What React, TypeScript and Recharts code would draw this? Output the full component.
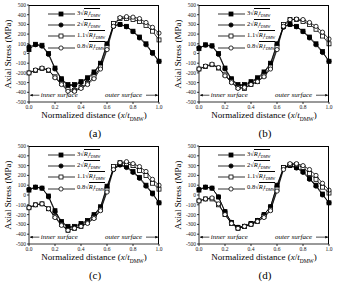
import React from 'react';
import { LineChart, Line, XAxis, YAxis } from 'recharts';

// normalized distance x/t_DMW
const xs = [0, 0.05, 0.1, 0.15, 0.2, 0.25, 0.3, 0.35, 0.4, 0.45, 0.5, 0.55, 0.6, 0.65, 0.7, 0.75, 0.8, 0.85, 0.9, 0.95, 1.0];

const yTicks = [-500, -400, -300, -200, -100, 0, 100, 200, 300, 400, 500];
const xTicks = [0, 0.2, 0.4, 0.6, 0.8, 1.0];

const legendFactors = ['3', '2', '1.1', '0.8'];

// axial stress (MPa), case (a)
const aS3 = [40, 95, 85, 0, -150, -260, -320, -320, -290, -250, -190, -100, 100, 290, 300, 280, 230, 170, 100, 10, -80];
const aS2 = [70, 90, 75, -10, -160, -270, -330, -330, -300, -260, -200, -110, 90, 280, 300, 275, 225, 160, 90, 0, -80];
const aS11 = [-200, -175, -155, -175, -240, -310, -370, -380, -350, -310, -240, -140, 60, 310, 360, 360, 350, 330, 290, 230, 140];
const aS08 = [-200, -170, -150, -170, -250, -320, -390, -390, -360, -320, -260, -160, 40, 280, 370, 380, 375, 360, 320, 270, 210];

// case (b)
const bS3 = [50, 90, 80, 0, -150, -260, -320, -320, -290, -250, -190, -100, 100, 280, 300, 280, 230, 170, 100, 20, -80];
const bS2 = [60, 85, 75, -10, -160, -270, -330, -330, -300, -260, -200, -110, 90, 270, 300, 275, 225, 160, 90, 10, -80];
const bS11 = [-160, -135, -115, -150, -220, -290, -350, -360, -320, -290, -230, -140, 60, 300, 350, 350, 330, 300, 250, 180, 100];
const bS08 = [-160, -130, -110, -145, -230, -300, -360, -350, -320, -290, -240, -160, 40, 280, 350, 355, 350, 320, 280, 220, 150];

// case (c)
const cS3 = [50, 80, 70, -10, -160, -270, -320, -320, -290, -260, -200, -120, 90, 270, 310, 290, 240, 180, 100, 20, -80];
const cS2 = [60, 80, 70, -20, -170, -280, -330, -330, -300, -270, -210, -130, 80, 260, 305, 280, 230, 170, 90, 10, -80];
const cS11 = [-130, -100, -90, -140, -220, -300, -360, -340, -320, -280, -230, -150, 50, 290, 330, 320, 300, 250, 200, 120, 60];
const cS08 = [-130, -100, -90, -140, -230, -310, -360, -340, -320, -290, -240, -160, 30, 260, 330, 340, 320, 290, 240, 160, 100];

// case (d)
const dS3 = [50, 80, 70, -20, -170, -280, -330, -320, -290, -260, -200, -120, 100, 280, 300, 280, 240, 170, 100, 10, -80];
const dS2 = [60, 80, 70, -20, -170, -280, -330, -320, -290, -260, -200, -120, 90, 270, 300, 275, 230, 160, 90, 0, -80];
const dS11 = [-60, -40, -40, -100, -200, -290, -340, -320, -300, -270, -220, -150, 60, 280, 310, 310, 280, 220, 160, 80, 20];
const dS08 = [-60, -40, -30, -90, -200, -290, -340, -320, -300, -270, -230, -160, 40, 260, 320, 320, 300, 260, 200, 120, 50];

const FONT = '"Liberation Serif", "DejaVu Serif", serif';
const W = 170;
const H = 140;
const PLOT_LEFT = 29;
const PLOT_RIGHT = 159;

type MarkerKind = 'fsq' | 'fci' | 'osq' | 'oci';
const markers: MarkerKind[] = ['fsq', 'fci', 'osq', 'oci'];

const Marker = ({ kind, cx, cy }: { kind: MarkerKind; cx: number; cy: number }) => {
  const fill = kind === 'fsq' || kind === 'fci' ? '#000' : '#fff';
  if (kind === 'fsq' || kind === 'osq') {
    return <rect x={cx - 2} y={cy - 2} width={4} height={4} fill={fill} stroke="#000" strokeWidth={0.8} />;
  }
  return <circle cx={cx} cy={cy} r={2.1} fill={fill} stroke="#000" strokeWidth={0.8} />;
};

const makeDot = (kind: MarkerKind) => (props: any) => {
  const { cx, cy, index } = props;
  if (cx == null || cy == null) return <g key={index} />;
  return (
    <g key={index}>
      <Marker kind={kind} cx={cx} cy={cy} />
    </g>
  );
};

const Legend = ({ top }: { top: number }) => (
  <div style={{ position: 'absolute', left: 48, top, fontFamily: FONT, fontSize: 6.5, lineHeight: '11px' }}>
    {legendFactors.map((f, i) => (
      <div key={f} style={{ display: 'flex', alignItems: 'center', height: 11.3 }}>
        <svg width={27} height={8} style={{ display: 'block' }}>
          <line x1={0} y1={4} x2={27} y2={4} stroke="#000" strokeWidth={0.8} />
          <Marker kind={markers[i]} cx={13} cy={4} />
        </svg>
        <span style={{ marginLeft: 2, whiteSpace: 'nowrap' }}>
          {f}
          <span>√</span>
          <span style={{ borderTop: '0.7px solid #000', fontStyle: 'italic' }}>
            R<sub style={{ fontSize: 4 }}>i</sub>t<sub style={{ fontSize: 4 }}>DMW</sub>
          </span>
        </span>
      </div>
    ))}
  </div>
);

interface PanelProps {
  left: number;
  top: number;
  plotTop: number;
  plotBottom: number;
  tag: string;
  series: number[][];
}

const Panel = ({ left, top, plotTop, plotBottom, tag, series }: PanelProps) => {
  const rows = xs.map((x, i) => ({
    x,
    s3: series[0][i],
    s2: series[1][i],
    s11: series[2][i],
    s08: series[3][i],
  }));
  const keys = ['s3', 's2', 's11', 's08'];
  const ph = plotBottom - plotTop;
  const pw = PLOT_RIGHT - PLOT_LEFT;
  const yAt = (v: number) => plotTop + ((500 - v) / 1000) * ph;
  const xAt = (v: number) => PLOT_LEFT + v * pw;
  const tickStyle = { fontSize: 5.5, fontFamily: FONT, fill: '#222' };

  return (
    <div style={{ position: 'absolute', left, top, width: W, height: H }}>
      <LineChart
        width={W}
        height={H}
        data={rows}
        margin={{ top: plotTop, right: W - PLOT_RIGHT, bottom: H - plotBottom - 20, left: 0 }}
      >
        <XAxis
          dataKey="x"
          type="number"
          domain={[0, 1]}
          ticks={xTicks}
          tickFormatter={(v: number) => v.toFixed(1)}
          height={20}
          tick={tickStyle}
          tickSize={2}
          tickMargin={1}
          stroke="#000"
          strokeWidth={0.8}
        />
        <YAxis
          type="number"
          domain={[-500, 500]}
          ticks={yTicks}
          interval={0}
          width={29}
          tick={tickStyle}
          tickSize={2}
          tickMargin={1}
          stroke="#000"
          strokeWidth={0.8}
        />
        {keys.map((k, i) => (
          <Line
            key={k}
            dataKey={k}
            type="linear"
            stroke="#000"
            strokeWidth={0.8}
            dot={makeDot(markers[i])}
            activeDot={false}
            isAnimationActive={false}
          />
        ))}
      </LineChart>

      {/* frame on top and right */}
      <div
        style={{
          position: 'absolute',
          left: PLOT_LEFT,
          top: plotTop,
          width: pw,
          height: ph,
          borderTop: '0.8px solid #000',
          borderRight: '0.8px solid #000',
          boxSizing: 'border-box',
          pointerEvents: 'none',
        }}
      />

      <Legend top={plotTop + 3} />

      {/* surface annotations */}
      <svg style={{ position: 'absolute', left: 0, top: 0 }} width={W} height={H}>
        <defs>
          <marker id={`ah${tag}`} markerWidth={4} markerHeight={4} refX={3.5} refY={2} orient="auto">
            <path d="M0,0 L4,2 L0,4 z" fill="#000" />
          </marker>
        </defs>
        <line x1={xAt(0.08)} y1={yAt(-430)} x2={xAt(0.01)} y2={yAt(-430)} stroke="#000" strokeWidth={0.7} markerEnd={`url(#ah${tag})`} />
        <text x={xAt(0.09)} y={yAt(-430) + 2.2} fontSize={7} fontFamily={FONT} fontStyle="italic">inner surface</text>
        <text x={xAt(0.585)} y={yAt(-430) + 2.2} fontSize={7} fontFamily={FONT} fontStyle="italic">outer surface</text>
        <line x1={xAt(0.9)} y1={yAt(-430)} x2={xAt(0.99)} y2={yAt(-430)} stroke="#000" strokeWidth={0.7} markerEnd={`url(#ah${tag})`} />
      </svg>

      {/* axis titles */}
      <div
        style={{
          position: 'absolute',
          left: 8,
          top: (plotTop + plotBottom) / 2,
          transform: 'translate(-50%, -50%) rotate(-90deg)',
          fontFamily: FONT,
          fontSize: 9,
          whiteSpace: 'nowrap',
        }}
      >
        Axial Stress (MPa)
      </div>
      <div
        style={{
          position: 'absolute',
          left: 94,
          top: plotBottom + 14,
          transform: 'translate(-50%, -50%)',
          fontFamily: FONT,
          fontSize: 9,
          whiteSpace: 'nowrap',
        }}
      >
        Normalized distance (<i>x</i>/<i>t</i>
        <sub style={{ fontSize: 5.5 }}>DMW</sub>)
      </div>
      <div
        style={{
          position: 'absolute',
          left: 95,
          top: plotBottom + 31,
          transform: 'translate(-50%, -50%)',
          fontFamily: FONT,
          fontSize: 11,
        }}
      >
        ({tag})
      </div>
    </div>
  );
};

export default function App() {
  return (
    <div style={{ position: 'absolute', left: 0, top: 0, width: 341, height: 282, background: '#fff', overflow: 'hidden' }}>
      <Panel left={0} top={0} plotTop={5} plotBottom={102} tag="a" series={[aS3, aS2, aS11, aS08]} />
      <Panel left={170} top={0} plotTop={5} plotBottom={102} tag="b" series={[bS3, bS2, bS11, bS08]} />
      <Panel left={0} top={140} plotTop={6} plotBottom={104} tag="c" series={[cS3, cS2, cS11, cS08]} />
      <Panel left={170} top={140} plotTop={6} plotBottom={104} tag="d" series={[dS3, dS2, dS11, dS08]} />
    </div>
  );
}
